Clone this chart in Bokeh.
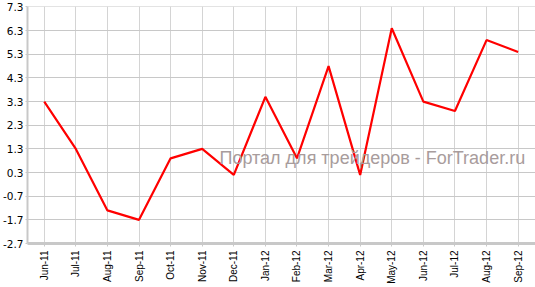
from bokeh.plotting import figure
from bokeh.models import ColumnDataSource, Range1d, FixedTicker, Label
from bokeh.embed import file_html
from bokeh.resources import INLINE

months = ["Jun-11", "Jul-11", "Aug-11", "Sep-11", "Oct-11", "Nov-11", "Dec-11",
          "Jan-12", "Feb-12", "Mar-12", "Apr-12", "May-12", "Jun-12", "Jul-12",
          "Aug-12", "Sep-12"]
values = [3.3, 1.3, -1.3, -1.7, 0.9, 1.3, 0.2, 3.5, 0.9, 4.8, 0.2, 6.4, 3.3, 2.9, 5.9, 5.4]
y_ticks = [-2.7, -1.7, -0.7, 0.3, 1.3, 2.3, 3.3, 4.3, 5.3, 6.3, 7.3]
y_labels = ["-2.7", "-1.7", "-0.7", "0.3", "1.3", "2.3", "3.3", "4.3", "5.3", "6.3", "7.3"]

x_idx = list(range(len(months)))
src = ColumnDataSource(dict(x=x_idx, y=values))

p = figure(width=535, height=287, output_backend="svg", toolbar_location=None,
           x_range=Range1d(-0.53, len(months) - 1 + 0.55),
           y_range=Range1d(-2.7, 7.32))
p.min_border_left = 26
p.min_border_right = 0
p.min_border_top = 6
p.min_border_bottom = 44
p.outline_line_color = None
p.background_fill_color = "white"
p.border_fill_color = "white"

p.line("x", "y", source=src, line_color="#ff0000", line_width=2.2)

p.xaxis.ticker = FixedTicker(ticks=x_idx)
p.xaxis.major_label_overrides = {i: m for i, m in enumerate(months)}
p.xaxis.major_label_orientation = 1.5708
p.xaxis.major_label_text_font = "Liberation Sans"
p.xaxis.major_label_text_font_size = "10px"
p.xaxis.major_label_text_color = "#000000"
p.xaxis.axis_line_color = "#c8c8c8"
p.xaxis.axis_line_width = 3
p.xaxis.major_tick_line_color = "#c8c8c8"
p.xaxis.major_tick_out = 3
p.xaxis.major_tick_in = 0
p.xaxis.minor_tick_line_color = None
p.xaxis.major_label_standoff = 4

p.yaxis.ticker = FixedTicker(ticks=y_ticks)
p.yaxis.major_label_overrides = {t: l for t, l in zip(y_ticks, y_labels)}
p.yaxis.major_label_text_font = "DejaVu Sans"
p.yaxis.major_label_text_font_size = "10.5px"
p.yaxis.major_label_text_color = "#000000"
p.yaxis.axis_line_color = "#c8c8c8"
p.yaxis.axis_line_width = 2
p.yaxis.major_tick_line_color = "#c8c8c8"
p.yaxis.major_tick_out = 2
p.yaxis.major_tick_in = 0
p.yaxis.minor_tick_line_color = None
p.yaxis.major_label_standoff = 2

p.xgrid.grid_line_color = "#d4d4d4"
p.ygrid.grid_line_color = "#c8c8c8"
p.xgrid.grid_line_width = 1
p.ygrid.grid_line_width = 1

wm = Label(x=192, y=86, x_units="screen", y_units="screen",
           text="Портал для трейдеров - ForTrader.ru",
           text_font="Liberation Sans", text_font_size="18px",
           text_color="#a89c9c", text_baseline="alphabetic")
p.add_layout(wm)

open("out.html", "w").write(file_html(p, INLINE))
